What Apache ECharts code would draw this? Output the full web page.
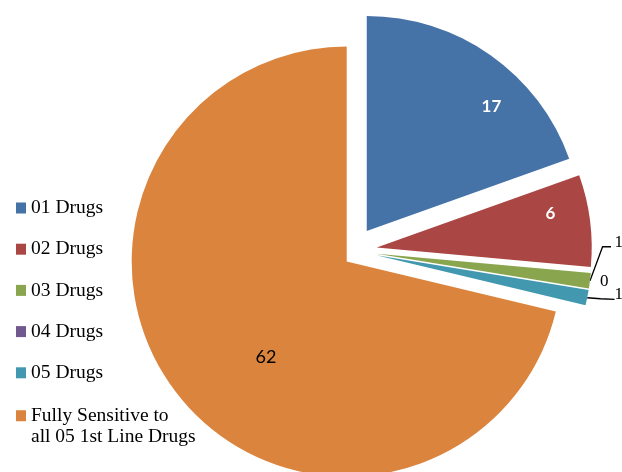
<!DOCTYPE html>
<html>
<head>
<meta charset="utf-8">
<script src="https://cdn.jsdelivr.net/npm/echarts@6/dist/echarts.min.js"></script>
<style>
html, body { margin: 0; padding: 0; background: #fff; }
#chart { width: 622px; height: 472px; }
</style>
</head>
<body>
<div id="chart"></div>
<script>
// data
var categories = ['01 Drugs', '02 Drugs', '03 Drugs', '04 Drugs', '05 Drugs', 'Fully Sensitive to all 05 1st Line Drugs'];
var patients = [17, 6, 1, 0, 1, 62];
var colors = ['#4572A7', '#AA4643', '#89A54E', '#71588F', '#4198AF', '#DB843D'];

var ORANGE = 5;   // the big slice that stays in place
var R = 215;

// how each data label is drawn (offsets from echarts' default spot)
var labelSpec = [
    { inside: true, color: '#fff', bold: true, size: 17, dx: 61, dy: -34 },
    { inside: true, color: '#fff', bold: true, size: 17, dx: 64, dy: -20 },
    { inside: false, line: [[12.6, -34], [21, -34]], dx: -0.5, dy: -39.5 },
    { inside: false, line: null, dx: -13.5, dy: -9.5 },
    { inside: false, line: [[13.3, 1], [27.3, 1.7]], dx: 2.5, dy: -5 },
    { inside: true, color: '#000', bold: false, size: 18, dx: 6, dy: 27 }
];

function buildItems(layer) {
    return categories.map(function (name, i) {
        var spec = labelSpec[i];
        var mine = layer === 'base' ? i === ORANGE : i !== ORANGE;
        var item = {
            name: name,
            value: patients[i],
            selected: layer === 'exploded' && mine,
            itemStyle: { color: colors[i], opacity: mine ? 1 : 0, borderWidth: 0 }
        };
        if (!mine) {
            item.label = { show: false };
            item.labelLine = { show: false };
        } else if (spec.inside) {
            item.label = {
                show: true, position: 'inside', color: spec.color, formatter: '{c}',
                fontFamily: 'Lato', fontSize: spec.size,
                fontWeight: spec.bold ? 'bold' : 'normal'
            };
            item.labelLine = { show: false };
        } else {
            item.label = {
                show: true, position: 'outside', color: '#000', formatter: '{c}',
                fontFamily: 'Liberation Serif', fontSize: 17
            };
            item.labelLine = {
                show: true, length: 10, length2: 10,
                lineStyle: { color: '#000', width: 1.3, opacity: spec.line ? 1 : 0 }
            };
        }
        return item;
    });
}

function placeLabel(params) {
    var spec = labelSpec[params.dataIndex];
    var out = { dx: spec.dx, dy: spec.dy };
    if (spec.line && params.labelLinePoints) {
        var s = params.labelLinePoints[0];
        out.labelLinePoints = [
            [s[0], s[1]],
            [s[0] + spec.line[0][0], s[1] + spec.line[0][1]],
            [s[0] + spec.line[1][0], s[1] + spec.line[1][1]]
        ];
    }
    return out;
}

var chart = echarts.init(document.getElementById('chart'));

var pieCommon = {
    type: 'pie',
    radius: R,
    startAngle: 90,
    clockwise: true,
    avoidLabelOverlap: false,
    emphasis: { disabled: true },
    labelLayout: placeLabel
};

var legendCommon = {
    orient: 'vertical',
    left: 16,
    padding: 0,
    itemWidth: 10,
    itemHeight: 11,
    itemGap: 20.2,
    icon: 'rect',
    selectedMode: false,
    itemStyle: { opacity: 1 },
    textStyle: { fontFamily: 'Liberation Serif', fontSize: 19.5, color: '#000', lineHeight: 21.5 }
};

chart.setOption({
    animation: false,
    legend: [
        // the five short entries
        Object.assign({}, legendCommon, {
            top: 197.5,
            textStyle: { fontFamily: 'Liberation Serif', fontSize: 19.5, color: '#000', lineHeight: 21 },
            data: categories.slice(0, ORANGE)
        }),
        // the long one wraps, with its square beside the first line
        Object.assign({}, legendCommon, {
            top: 383.5,
            formatter: function (name) {
                return ' \n' + name.replace(' to ', ' to\n');
            },
            data: [categories[ORANGE]]
        })
    ],
    series: [
        Object.assign({}, pieCommon, {
            name: 'base',
            center: [346.7, 261.6],
            selectedMode: false,
            data: buildItems('base')
        }),
        Object.assign({}, pieCommon, {
            name: 'exploded',
            center: [352.9, 250.6],
            selectedMode: 'multiple',
            selectedOffset: 24,
            data: buildItems('exploded')
        })
    ]
});
</script>
</body>
</html>
